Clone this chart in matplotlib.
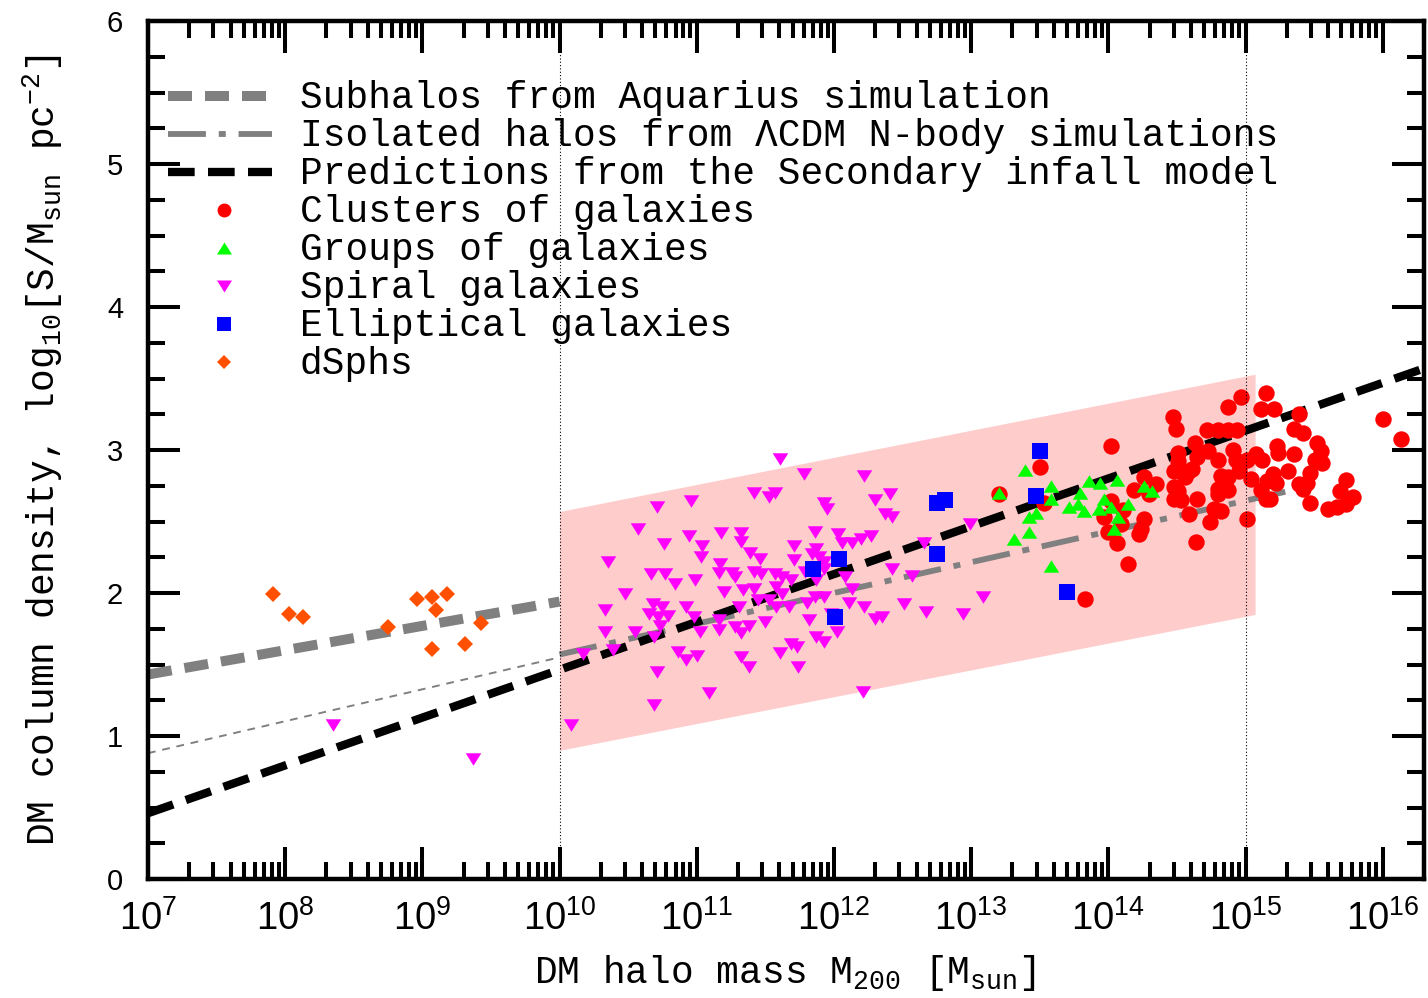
import numpy as np
import matplotlib
matplotlib.use("Agg")
import matplotlib.pyplot as plt
from matplotlib.ticker import FixedLocator, LogLocator, MultipleLocator, FuncFormatter, NullFormatter

plt.rcParams['font.family'] = ['Liberation Mono', 'DejaVu Sans Mono']
plt.rcParams['mathtext.fontset'] = 'custom'
plt.rcParams['mathtext.rm'] = 'Liberation Mono'
plt.rcParams['mathtext.sf'] = 'Liberation Sans'
plt.rcParams['mathtext.default'] = 'rm'

# ---- data: log10(M200 / Msun) and log10(S / Msun pc^-2) ----
cluster_logm = [13.20, 13.50, 13.53, 14.02, 13.83, 14.14, 14.06, 14.00, 13.97, 14.02,
                14.11, 14.09, 14.22, 14.24, 14.26, 14.19, 14.26, 14.30, 14.35, 14.47,
                14.49, 14.51, 14.51, 14.48, 14.48, 14.51, 14.53, 14.59, 14.61, 14.56,
                14.59, 14.64, 14.65, 14.63, 14.65, 14.73, 14.72, 14.80, 14.87, 14.94,
                14.87, 14.97, 14.80, 14.82, 14.87, 14.91, 14.93, 14.95, 14.80, 14.87,
                14.80, 14.77, 14.82, 14.74, 14.96, 15.04, 15.01, 15.08, 15.12, 15.01,
                15.11, 15.15, 15.15, 15.11, 15.21, 15.39, 15.35, 15.42, 15.23, 15.24,
                15.35, 15.20, 15.16, 15.22, 15.31, 15.39, 15.42, 15.52, 15.55, 15.51,
                15.56, 15.47, 15.45, 15.18, 15.47, 15.73, 15.69, 15.78, 15.60, 15.67,
                15.73, 16.00, 16.13, 14.48]
cluster_logs = [2.69, 2.88, 2.63, 3.03, 1.96, 2.20, 2.35, 2.43, 2.53, 2.64,
                2.58, 2.48, 2.41, 2.45, 2.52, 2.72, 2.81, 2.69, 2.76, 3.23,
                3.15, 2.98, 2.92, 2.85, 2.74, 2.71, 2.65, 2.85, 2.87, 2.81,
                2.55, 2.36, 2.66, 3.05, 2.95, 2.99, 3.14, 3.14, 3.14, 3.14,
                3.30, 3.37, 2.93, 2.82, 2.81, 3.00, 2.93, 2.85, 2.73, 2.72,
                2.69, 2.59, 2.57, 2.50, 2.90, 2.80, 2.93, 2.97, 2.93, 2.52,
                2.72, 2.66, 3.40, 3.29, 3.29, 3.25, 3.15, 3.12, 3.03, 2.98,
                2.97, 2.83, 2.78, 2.77, 2.85, 2.76, 2.73, 3.05, 2.99, 2.93,
                2.91, 2.84, 2.77, 2.66, 2.63, 2.79, 2.71, 2.67, 2.59, 2.60,
                2.62, 3.22, 3.08, 2.66]

group_logm = [13.20, 13.39, 13.58, 13.58, 13.47, 13.42, 13.42, 13.31, 13.58, 13.71,
              13.78, 13.82, 13.79, 13.86, 13.94, 14.06, 13.97, 13.93, 14.02, 14.07,
              14.14, 14.04, 14.26, 14.32]
group_logs = [2.70, 2.86, 2.75, 2.66, 2.56, 2.53, 2.43, 2.38, 2.19, 2.60,
              2.62, 2.57, 2.70, 2.78, 2.77, 2.79, 2.66, 2.59, 2.60, 2.53,
              2.62, 2.45, 2.75, 2.71]

spiral_logm = [11.61, 11.78, 12.22, 11.42, 11.53, 11.57, 11.93, 11.95, 12.30, 12.41,
               12.37, 12.42, 10.71, 10.96, 10.57, 12.99, 10.94, 11.18, 11.32, 11.32,
               11.86, 12.03, 12.06, 12.13, 12.20, 12.27, 10.76, 11.04, 11.03, 11.71,
               11.39, 11.46, 10.35, 11.87, 11.84, 11.89, 11.93, 11.93, 11.71, 12.66,
               11.17, 11.16, 11.26, 11.28, 11.42, 11.47, 11.57, 11.62, 11.69, 11.79,
               10.67, 10.77, 10.84, 10.99, 12.42, 12.57, 12.08, 11.87, 10.48, 11.20,
               11.34, 11.42, 11.58, 11.62, 12.13, 11.45, 11.53, 11.31, 11.58, 11.67,
               11.86, 11.93, 11.80, 12.11, 12.22, 10.33, 10.68, 10.75, 10.65, 10.72,
               10.79, 10.92, 10.98, 12.51, 12.67, 12.30, 12.35, 12.94, 13.09, 11.16,
               11.82, 11.98, 12.02, 11.02, 11.16, 11.28, 11.32, 11.38, 11.50, 11.87,
               11.93, 11.69, 11.73, 10.73, 10.69, 10.33, 10.55, 10.39, 10.17, 10.86,
               10.92, 11.00, 11.32, 11.38, 11.61, 11.74, 10.71, 11.09, 10.69, 12.21,
               10.08, 8.35, 9.37]
spiral_logs = [2.94, 2.83, 2.82, 2.70, 2.67, 2.70, 2.63, 2.59, 2.65, 2.69,
               2.55, 2.53, 2.60, 2.64, 2.45, 2.48, 2.40, 2.42, 2.42, 2.36,
               2.43, 2.41, 2.35, 2.35, 2.38, 2.40, 2.34, 2.33, 2.25, 2.33,
               2.28, 2.24, 2.22, 2.31, 2.27, 2.25, 2.22, 2.17, 2.23, 2.35,
               2.20, 2.14, 2.14, 2.11, 2.15, 2.13, 2.13, 2.11, 2.09, 2.15,
               2.13, 2.13, 2.06, 2.09, 2.17, 2.12, 2.11, 2.09, 1.99, 2.01,
               2.02, 2.03, 2.04, 1.99, 2.03, 1.95, 1.95, 1.90, 1.90, 1.90,
               1.97, 1.97, 1.93, 1.93, 1.90, 1.88, 1.92, 1.90, 1.85, 1.83,
               1.84, 1.90, 1.83, 1.92, 1.87, 1.82, 1.83, 1.85, 1.97, 1.81,
               1.81, 1.85, 1.73, 1.73, 1.74, 1.76, 1.72, 1.77, 1.80, 1.69,
               1.66, 1.64, 1.62, 1.77, 1.69, 1.73, 1.73, 1.60, 1.57, 1.59,
               1.53, 1.56, 1.55, 1.48, 1.58, 1.48, 1.45, 1.30, 1.22, 1.31,
               1.08, 1.08, 0.84]

ell_logm = [11.85, 12.04, 12.01, 12.75, 12.81, 12.75, 13.50, 13.47, 13.70]
ell_logs = [2.17, 2.24, 1.83, 2.63, 2.65, 2.27, 2.99, 2.68, 2.01]

dsph_logm = [7.91, 8.03, 8.13, 8.75, 8.96, 9.07, 9.10, 9.18, 9.43, 9.07, 9.31]
dsph_logs = [1.99, 1.85, 1.83, 1.76, 1.96, 1.97, 1.88, 1.99, 1.79, 1.61, 1.64]

# model curves (end points)
sub_logm, sub_logs = [7.0, 10.0], [1.43, 1.94]
iso_logm, iso_logs = [10.0, 15.3], [1.57, 2.71]
iso_ext_logm, iso_ext_logs = [7.0, 10.0], [0.88, 1.55]
sec_logm, sec_logs = [7.0, 16.3], [0.46, 3.57]

# shaded band
band_logm = [10.0, 15.07]
band_lo = [0.90, 1.85]
band_hi = [2.57, 3.53]

vline_logm = [10, 15]
xtick_exp = list(range(7, 17))

labels = ["Subhalos from Aquarius simulation",
          "Isolated halos from \u039bCDM N-body simulations",
          "Predictions from the Secondary infall model",
          "Clusters of galaxies",
          "Groups of galaxies",
          "Spiral galaxies",
          "Elliptical galaxies",
          "dSphs"]

gray = '#808080'
red, green, magenta, blue, orange = '#ff0000', '#00ff00', '#ff00ff', '#0000ff', '#ff5000'
tri_dn = [(-1, 0.8), (1, 0.8), (0, -0.8)]
tri_up = [(-1, -0.8), (1, -0.8), (0, 0.8)]

fig = plt.figure(figsize=(14.28, 9.98), dpi=100)
ax = fig.add_axes([148 / 1428, 119 / 998, 1276 / 1428, 858 / 998])
ax.set_xscale('log')
ax.set_xlim(1e7, 2e16)
ax.set_ylim(0, 6)

m = lambda a: 10 ** np.asarray(a)

ax.fill_between(m(band_logm), band_lo, band_hi, color='#ffcccc', lw=0, zorder=1)

ax.plot(m(sub_logm), sub_logs, color=gray, lw=7.2, dashes=(2.4, 1.3), zorder=2)
ax.plot(m(iso_ext_logm), iso_ext_logs, color=gray, lw=1.4, dashes=(4, 3.5), zorder=2)
ax.plot(m(iso_logm), iso_logs, color=gray, lw=4.2, dashes=(6.5, 2.2, 1.2, 2.2), zorder=2)
ax.plot(m(sec_logm), sec_logs, color='black', lw=6, dashes=(3.2, 1.6), zorder=2)

ax.plot(m(cluster_logm), cluster_logs, 'o', color=red, ms=11.8, mew=0, zorder=3)
ax.plot(m(group_logm), group_logs, ls='none', marker=tri_up, color=green, ms=11.2, mew=0, zorder=3)
ax.plot(m(spiral_logm), spiral_logs, ls='none', marker=tri_dn, color=magenta, ms=11.2, mew=0, zorder=3)
ax.plot(m(ell_logm), ell_logs, 's', color=blue, ms=11.5, mew=0, zorder=3)
ax.plot(m(dsph_logm), dsph_logs, 'D', color=orange, ms=7.8, mew=0, zorder=3)

for v in vline_logm:
    ax.axvline(10.0 ** v, color='black', lw=0.8, ls=(0, (1, 2)), zorder=4)

# key, drawn by hand in axes coordinates (gnuplot-like tight spacing)
base0, step = 0.8982, 0.04429
sym_dy = 0.0147
lx0, lx1, mx, tx = 0.0157, 0.0972, 0.0596, 0.1191
line_styles = [dict(color=gray, lw=7.2, dashes=(2.4, 1.3)),
               dict(color=gray, lw=4.2, dashes=(6.5, 2.2, 1.2, 2.2)),
               dict(color='black', lw=6, dashes=(3.2, 1.6))]
mark_styles = [dict(marker='o', color=red, ms=10),
               dict(marker=tri_up, color=green, ms=10.8),
               dict(marker=tri_dn, color=magenta, ms=10.8),
               dict(marker='s', color=blue, ms=10.5),
               dict(marker='D', color=orange, ms=7.6)]
for i, lab in enumerate(labels):
    yb = base0 - i * step
    ys = yb + sym_dy
    if i < 3:
        ax.plot([lx0, lx1], [ys, ys], transform=ax.transAxes, clip_on=False, zorder=5, **line_styles[i])
    else:
        ax.plot([mx], [ys], ls='none', mew=0, transform=ax.transAxes, clip_on=False, zorder=5,
                **mark_styles[i - 3])
    ax.text(tx, yb, lab, transform=ax.transAxes, fontsize=27.3, va='baseline', ha='left', zorder=5)

# axes, ticks
for s in ax.spines.values():
    s.set_linewidth(3.2)
ax.xaxis.set_major_locator(FixedLocator([10.0 ** e for e in xtick_exp]))
ax.xaxis.set_minor_locator(LogLocator(base=10, subs=np.arange(2, 10), numticks=20))
ax.xaxis.set_major_formatter(FuncFormatter(lambda v, p: r'$\mathsf{10^{%d}}$' % round(np.log10(v))))
ax.xaxis.set_minor_formatter(NullFormatter())
ax.yaxis.set_major_locator(MultipleLocator(1))
ax.yaxis.set_minor_locator(MultipleLocator(0.25))
ax.tick_params(which='both', direction='in', top=True, right=True, width=2.9)
ax.tick_params(which='major', length=23)
ax.tick_params(which='minor', length=12)
ax.tick_params(axis='x', which='major', labelsize=27.5, pad=15)
ax.tick_params(axis='y', which='major', labelsize=21, pad=18,
               labelfontfamily=['Liberation Sans', 'DejaVu Sans'])

fig.text(0.5497, 0.015, r'DM halo mass M$_{200}$ [M$_{sun}$]', fontsize=27.3, ha='center', va='baseline')
fig.text(0.030, 0.549, r'DM column density, log$_{10}$[S/M$_{sun}$ pc$^{-2}$]', fontsize=27.3,
         rotation=90, ha='center', va='center')

fig.savefig('out.png', dpi=100)
